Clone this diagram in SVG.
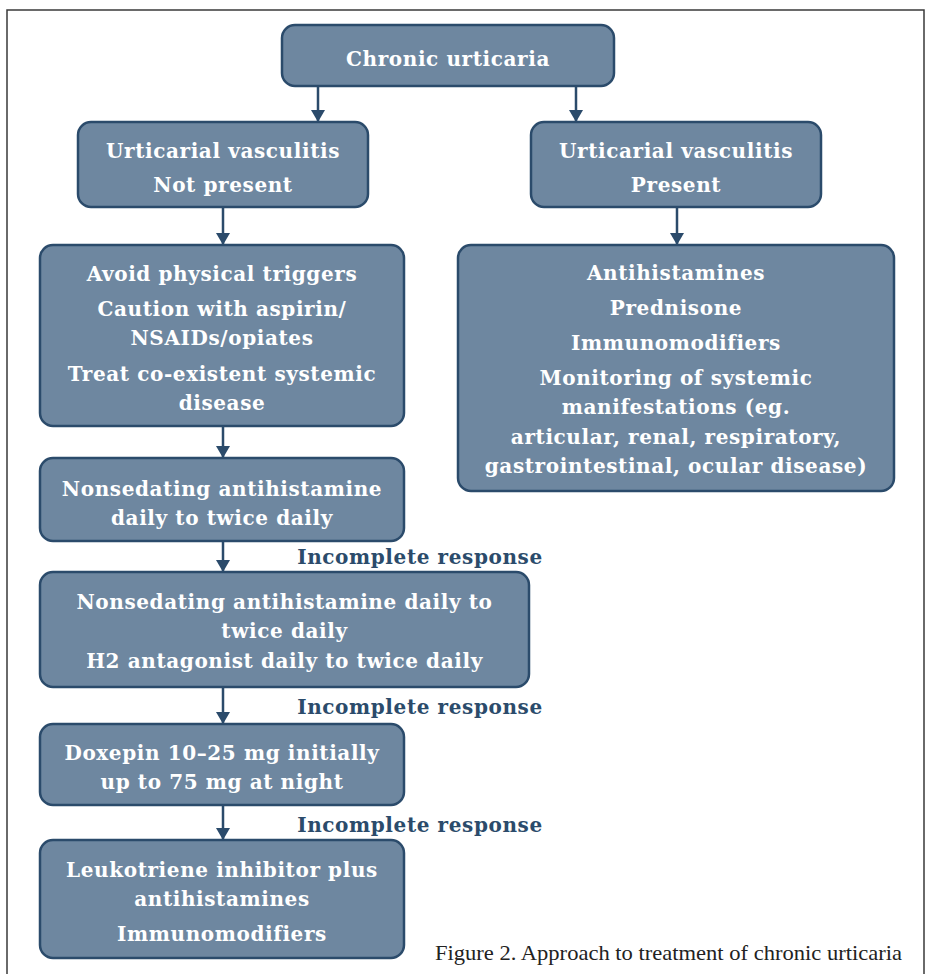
<svg xmlns="http://www.w3.org/2000/svg" width="930" height="974" viewBox="0 0 930 974">
<defs>
<marker id="ah" viewBox="0 0 12 14" refX="11" refY="7" markerWidth="12" markerHeight="14" markerUnits="userSpaceOnUse" orient="auto">
<path d="M0,0 L12,7 L0,14 Z" fill="#2b4b6b"/>
</marker>
<style>
.box{fill:#6e87a0;stroke:#2b4b6b;stroke-width:2.5}
.t{font-family:"DejaVu Serif",serif;font-weight:bold;font-size:20px;letter-spacing:0.6px;fill:#ffffff;text-anchor:middle}
.lbl{font-family:"DejaVu Serif",serif;font-weight:bold;font-size:20px;letter-spacing:0.6px;fill:#2b4b6b;text-anchor:middle}
.cap{font-family:"Liberation Serif",serif;font-size:21px;fill:#222222}
.c{stroke:#2b4b6b;stroke-width:2.5;fill:none;marker-end:url(#ah)}
</style>
</defs>
<rect x="0" y="0" width="930" height="974" fill="#ffffff"/>
<path d="M7,980 L7,10 L924,10 L924,980" fill="none" stroke="#3a3a3a" stroke-width="1.5"/>
<g id="connectors">
<line class="c" x1="318" y1="86" x2="318" y2="121"/>
<line class="c" x1="576" y1="86" x2="576" y2="121"/>
<line class="c" x1="223" y1="207" x2="223" y2="244"/>
<line class="c" x1="677" y1="207" x2="677" y2="244"/>
<line class="c" x1="223" y1="426" x2="223" y2="457"/>
<line class="c" x1="223" y1="541" x2="223" y2="571"/>
<line class="c" x1="223" y1="687" x2="223" y2="723"/>
<line class="c" x1="223" y1="805" x2="223" y2="839"/>
</g>
<g id="labels">
<text class="lbl" x="420" y="564">Incomplete response</text>
<text class="lbl" x="420" y="714">Incomplete response</text>
<text class="lbl" x="420" y="832">Incomplete response</text>
</g>
<g id="n-chronic">
<rect class="box" x="282" y="25" width="332" height="61" rx="13"/>
<text class="t" x="448" y="66">Chronic urticaria</text>
</g>
<g id="n-uv-not">
<rect class="box" x="78" y="122" width="290" height="85" rx="13"/>
<text class="t" x="223" y="158">Urticarial vasculitis</text>
<text class="t" x="223" y="192">Not present</text>
</g>
<g id="n-uv-present">
<rect class="box" x="531" y="122" width="290" height="85" rx="13"/>
<text class="t" x="676" y="158">Urticarial vasculitis</text>
<text class="t" x="676" y="192">Present</text>
</g>
<g id="n-avoid">
<rect class="box" x="40" y="245" width="364" height="181" rx="13"/>
<text class="t" x="222" y="281">Avoid physical triggers</text>
<text class="t" x="222" y="316">Caution with aspirin/</text>
<text class="t" x="222" y="345">NSAIDs/opiates</text>
<text class="t" x="222" y="381">Treat co-existent systemic</text>
<text class="t" x="222" y="410">disease</text>
</g>
<g id="n-right">
<rect class="box" x="458" y="245" width="436" height="246" rx="13"/>
<text class="t" x="676" y="280">Antihistamines</text>
<text class="t" x="676" y="315">Prednisone</text>
<text class="t" x="676" y="350">Immunomodifiers</text>
<text class="t" x="676" y="385">Monitoring of systemic</text>
<text class="t" x="676" y="414">manifestations (eg.</text>
<text class="t" x="676" y="444">articular, renal, respiratory,</text>
<text class="t" x="676" y="473">gastrointestinal, ocular disease)</text>
</g>
<g id="n-nonsed">
<rect class="box" x="40" y="458" width="364" height="83" rx="13"/>
<text class="t" x="222" y="496">Nonsedating antihistamine</text>
<text class="t" x="222" y="525">daily to twice daily</text>
</g>
<g id="n-nonsed-h2">
<rect class="box" x="40" y="572" width="489" height="115" rx="13"/>
<text class="t" x="284.5" y="609">Nonsedating antihistamine daily to</text>
<text class="t" x="284.5" y="638">twice daily</text>
<text class="t" x="284.5" y="668">H2 antagonist daily to twice daily</text>
</g>
<g id="n-doxepin">
<rect class="box" x="40" y="724" width="364" height="81" rx="13"/>
<text class="t" x="222" y="760">Doxepin 10–25 mg initially</text>
<text class="t" x="222" y="789">up to 75 mg at night</text>
</g>
<g id="n-leuko">
<rect class="box" x="40" y="840" width="364" height="118" rx="13"/>
<text class="t" x="222" y="877">Leukotriene inhibitor plus</text>
<text class="t" x="222" y="906">antihistamines</text>
<text class="t" x="222" y="941">Immunomodifiers</text>
</g>
<text class="cap" x="435" y="960" textLength="467" lengthAdjust="spacingAndGlyphs">Figure 2. Approach to treatment of chronic urticaria</text>
</svg>
